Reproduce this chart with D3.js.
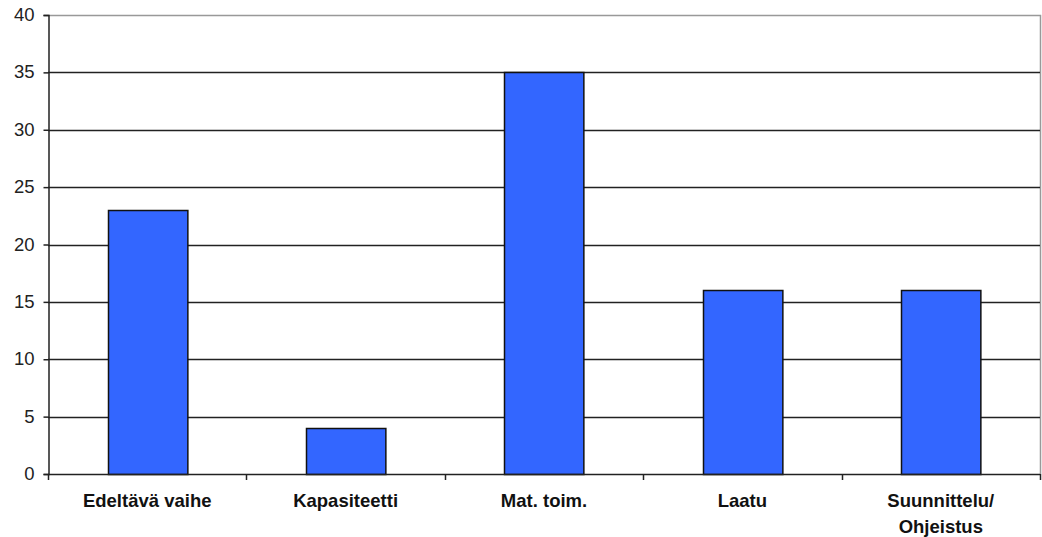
<!DOCTYPE html>
<html>
<head>
<meta charset="utf-8">
<script src="https://cdn.jsdelivr.net/npm/d3@7"></script>
<style>
  body { margin: 0; background: #fff; }
  svg { display: block; }
  text { font-family: "Liberation Sans", Arial, sans-serif; }
</style>
</head>
<body>
<svg id="chart" width="1042" height="537"></svg>
<script>
// Category names (line breaks marked with "\n")
const categories = ["Edeltävä vaihe", "Kapasiteetti", "Mat. toim.", "Laatu", "Suunnittelu/\nOhjeistus"];
// Value per category
const values = [23, 4, 35, 16, 16];
// Y-axis ticks
const yTicks = [0, 5, 10, 15, 20, 25, 30, 35, 40];

const svg = d3.select("#chart");
const margin = { left: 48, right: 2, top: 15, bottom: 63 };
const W = 1042, H = 537;

const x = d3.scaleBand()
  .domain(categories)
  .range([margin.left, W - margin.right])
  .paddingInner(0.6)
  .paddingOuter(0.3);

const xBand = d3.scaleBand()
  .domain(categories)
  .range([margin.left, W - margin.right]);

const y = d3.scaleLinear()
  .domain([0, 40])
  .range([H - margin.bottom, margin.top]);

// Plot frame: top and right edges in gray
svg.append("path")
  .attr("d", `M${margin.left},${y(40) + 0.5}H${W - margin.right + 0.5}V${y(0)}`)
  .attr("fill", "none")
  .attr("stroke", "#999")
  .attr("stroke-width", 1.5);

// Horizontal gridlines
svg.append("g")
  .selectAll("line")
  .data(yTicks.filter(d => d > 0 && d < 40))
  .join("line")
  .attr("x1", margin.left)
  .attr("x2", W - margin.right)
  .attr("y1", d => Math.round(y(d)) + 0.5)
  .attr("y2", d => Math.round(y(d)) + 0.5)
  .attr("stroke", "#222")
  .attr("stroke-width", 1.5);

// Bars
svg.append("g")
  .selectAll("rect")
  .data(values)
  .join("rect")
  .attr("x", (d, i) => Math.round(x(categories[i])) + 0.5)
  .attr("y", d => Math.round(y(d)) + 0.5)
  .attr("width", x.bandwidth())
  .attr("height", d => Math.round(y(0)) - Math.round(y(d)))
  .attr("fill", "#3366FF")
  .attr("stroke", "#111")
  .attr("stroke-width", 1.5);

// Y axis
const yAxis = svg.append("g")
  .attr("transform", `translate(${margin.left + 0.5},0)`)
  .call(d3.axisLeft(y).tickValues(yTicks).tickSize(5).tickPadding(9));
yAxis.selectAll("path, line").attr("stroke", "#222").attr("stroke-width", 1.5);
yAxis.selectAll("text").attr("font-size", 18.5).attr("fill", "#222")
  .attr("dy", "0.3em")
  .style("font-family", "'Liberation Sans', Arial, sans-serif");

// X axis with ticks at band boundaries
const boundaries = categories.map(c => xBand(c)).concat([W - margin.right]);
const xg = svg.append("g");
xg.append("line")
  .attr("x1", margin.left).attr("x2", W - margin.right)
  .attr("y1", Math.round(y(0)) + 0.5).attr("y2", Math.round(y(0)) + 0.5)
  .attr("stroke", "#222").attr("stroke-width", 1.5);
xg.selectAll("line.tick")
  .data(boundaries)
  .join("line")
  .attr("class", "tick")
  .attr("x1", d => Math.round(d) + 0.5).attr("x2", d => Math.round(d) + 0.5)
  .attr("y1", Math.round(y(0))).attr("y2", Math.round(y(0)) + 6)
  .attr("stroke", "#222").attr("stroke-width", 1.5);

// Category labels
xg.selectAll("text")
  .data(categories)
  .join("text")
  .attr("x", d => xBand(d) + xBand.bandwidth() / 2)
  .attr("y", y(0) + 33)
  .attr("text-anchor", "middle")
  .attr("font-size", 18.5)
  .attr("font-weight", "bold")
  .attr("fill", "#111")
  .each(function(d) {
    const lines = d.split("\n");
    d3.select(this).selectAll("tspan")
      .data(lines)
      .join("tspan")
      .attr("x", xBand(d) + xBand.bandwidth() / 2)
      .attr("dy", (l, i) => i === 0 ? 0 : 26)
      .text(l => l);
  });
</script>
</body>
</html>
